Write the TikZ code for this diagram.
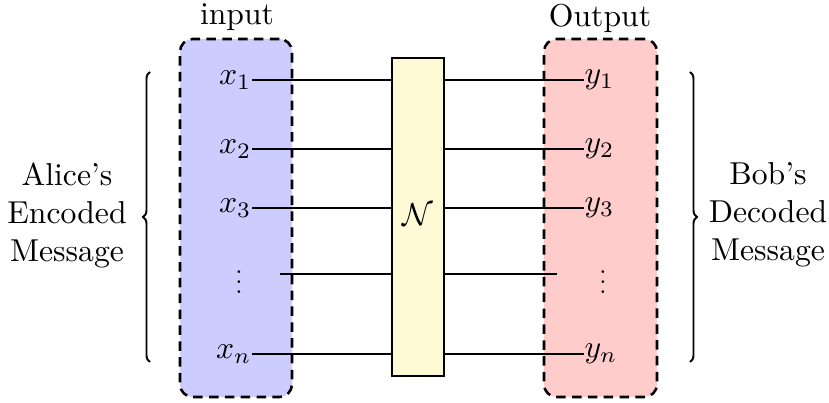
\documentclass[tikz,border=0pt]{standalone}
\usetikzlibrary{fit,decorations.pathreplacing}
\definecolor{inblue}{RGB}{204,204,255}
\definecolor{outred}{RGB}{255,204,204}
\definecolor{chanyel}{RGB}{255,250,214}
\begin{document}
\begin{tikzpicture}[x=0.0111cm,y=-0.0111cm,
  regbox/.style={draw,thick,dash pattern=on 3pt off 2pt,rounded corners=4pt,inner sep=0pt},
  chanbox/.style={draw,semithick,fill=chanyel,inner sep=0pt},
  lbl/.style={inner sep=0pt},
  dotlbl/.style={inner sep=0pt,anchor=base},
  wire/.style={semithick},
  brc/.style={semithick,decorate,decoration={brace,amplitude=2.2pt}}]
\useasboundingbox (0,0) rectangle (829,403);
% boxes
\node[regbox,fill=inblue,fit={(180,39) (292,397)}] (inbox) {};
\node[regbox,fill=outred,fit={(544,39) (657,397)}] (outbox) {};
\node[chanbox,fit={(392,58) (444,376)}] (N) {};
\node at (418,215) (Nlbl) {$\mathcal{N}$};
\node at (237,17) (intitle) {input};
\node at (600,18) (outtitle) {Output};
% input labels
\node[lbl,anchor=east] (x1) at (252,80) {$x_1$};
\node[lbl,anchor=east] (x2) at (252,149) {$x_2$};
\node[lbl,anchor=east] (x3) at (252,208) {$x_3$};
\node[dotlbl] (xd) at (239,294) {\scalebox{0.82}{$\vdots$}};
\coordinate (xdw) at (280,274);
\node[lbl,anchor=east] (xn) at (252,354) {$x_n$};
% output labels
\node[lbl,anchor=west] (y1) at (584,80) {$y_1$};
\node[lbl,anchor=west] (y2) at (584,149) {$y_2$};
\node[lbl,anchor=west] (y3) at (584,208) {$y_3$};
\node[dotlbl] (yd) at (603,294) {\scalebox{0.82}{$\vdots$}};
\coordinate (ydw) at (557,274);
\node[lbl,anchor=west] (yn) at (584,354) {$y_n$};
% wires
\foreach \s in {x1,x2,x3,xn}{\draw[wire] (\s.east) -- (\s.east -| N.west);}
\draw[wire] (xdw) -- (xdw -| N.west);
\foreach \s in {y1,y2,y3,yn}{\draw[wire] (N.east |- \s.west) -- (\s.west);}
\draw[wire] (N.east |- ydw) -- (ydw);
% braces
\coordinate (lb1) at (150,362);
\coordinate (lb2) at (150,72);
\coordinate (rb1) at (690,72);
\coordinate (rb2) at (690,362);
\draw[brc] (lb1) -- (lb2);
\draw[brc] (rb1) -- (rb2);
\node[align=center] (alice) at (67,215) {Alice's\\Encoded\\Message};
\node[align=center] (bob) at (768,215) {Bob's\\Decoded\\Message};
\end{tikzpicture}
\end{document}
